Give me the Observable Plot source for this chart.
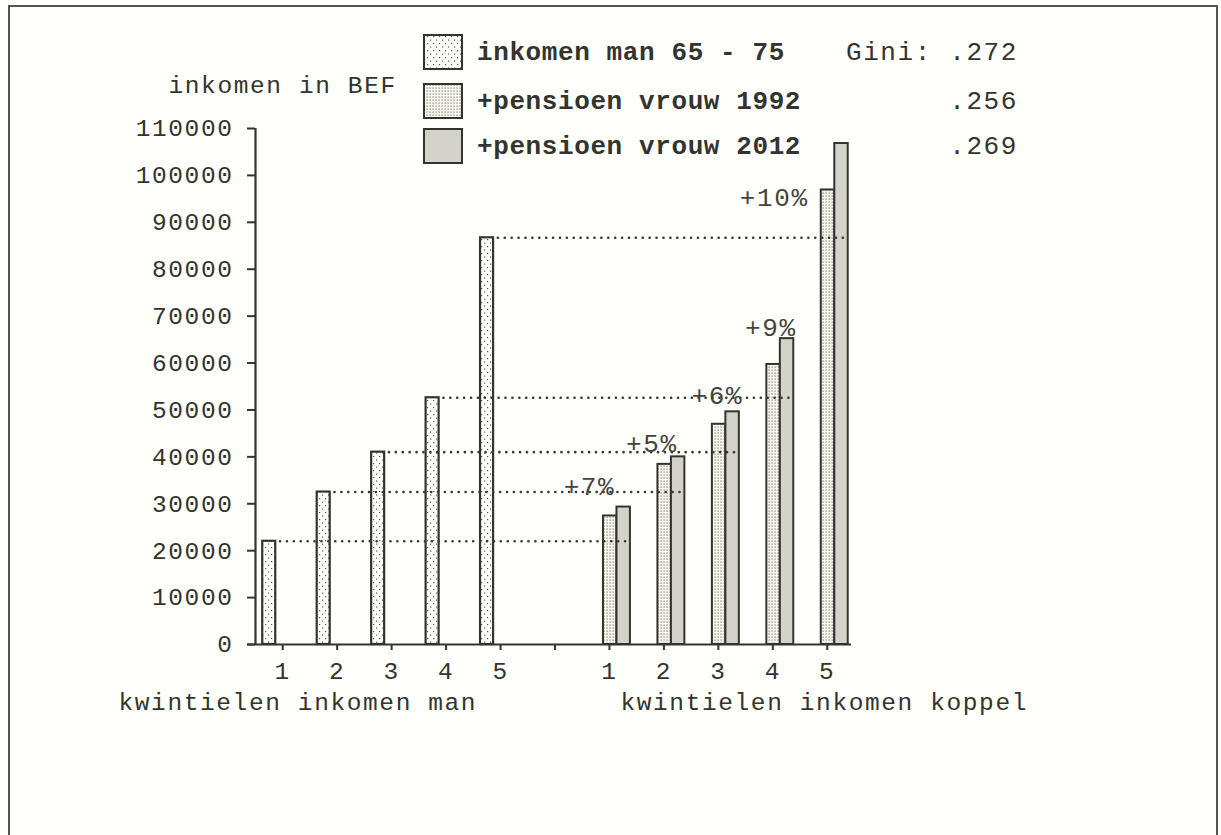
<!DOCTYPE html>
<html><head><meta charset="utf-8">
<script src="https://cdn.jsdelivr.net/npm/d3@7"></script>
<script src="https://cdn.jsdelivr.net/npm/@observablehq/plot@0.6"></script>
<style>
html,body{margin:0;padding:0;background:#fffffb;}
#wrap{position:relative;width:1221px;height:835px;overflow:hidden;background:#fffffb;}
#frame{position:absolute;left:8px;top:5px;width:1210px;height:900px;border:2px solid #55554a;box-sizing:border-box;}
#wrap svg{position:absolute;left:0;top:0;}
#wrap svg text{letter-spacing:1.6px;}
</style></head><body><div id="wrap"><div id="frame"></div></div>
<script>
// ---- data ----
const quintiles = ["1", "2", "3", "4", "5"];
const manIncome = [22000, 32500, 41000, 52600, 86700];          // inkomen man 65 - 75
const coupleIncome1992 = [27400, 38400, 46950, 59700, 96900];   // +pensioen vrouw 1992
const coupleIncome2012 = [29300, 40000, 49600, 65200, 106800];  // +pensioen vrouw 2012
const increaseLabels = ["+7%", "+5%", "+6%", "+9%", "+10%"];
const seriesNames = ["inkomen man 65 - 75", "+pensioen vrouw 1992", "+pensioen vrouw 2012"];
const giniLabels = ["Gini: .272", ".256", ".269"];
const yTicks = [0, 10000, 20000, 30000, 40000, 50000, 60000, 70000, 80000, 90000, 100000, 110000];
const groupTitles = ["kwintielen inkomen man", "kwintielen inkomen koppel"];
const yTitle = "inkomen in BEF";

// ---- layout helpers (slots on a linear x scale: man 1..5, gap 6, couple 7..11) ----
const manSlot = i => i + 1;
const coupleSlot = i => i + 7;
const xTickSlots = d3.range(1, 12);
const xTickLabel = s => s <= 5 ? quintiles[s - 1] : s >= 7 ? quintiles[s - 7] : "";

const manData = manIncome.map((v, i) => ({slot: manSlot(i), v}));
const c92 = coupleIncome1992.map((v, i) => ({slot: coupleSlot(i), v}));
const c12 = coupleIncome2012.map((v, i) => ({slot: coupleSlot(i), v}));
const dotted = manIncome.map((v, i) => ({a: manSlot(i), b: coupleSlot(i), v}));

const ink = "#34342e";
const font = "'Liberation Mono', 'Courier New', monospace";
const fs = 24.5;
const pctOffsets = [[-20, -20], [-12, -13], [-1, -16], [-2, -11], [-53, 54]];

const marks = [
  Plot.rectY(manData, {x1: d => d.slot - 0.367, x2: d => d.slot - 0.128, y1: 0, y2: "v",
    fill: "url(#pMan)", stroke: ink, strokeWidth: 2.2}),
  Plot.rectY(c92, {x1: d => d.slot - 0.11, x2: d => d.slot + 0.138, y1: 0, y2: "v",
    fill: "url(#p1992)", stroke: ink, strokeWidth: 2}),
  Plot.rectY(c12, {x1: d => d.slot + 0.138, x2: d => d.slot + 0.385, y1: 0, y2: "v",
    fill: "url(#p2012)", stroke: ink, strokeWidth: 2}),
  Plot.link(dotted, {x1: d => d.a - 0.05, x2: d => d.b + 0.385, y1: "v", y2: "v",
    stroke: "#3a3a34", strokeWidth: 2.6, strokeDasharray: "0.1,6.8", strokeLinecap: "round"}),
  Plot.ruleX([0.5], {stroke: ink, strokeWidth: 2.2}),
  Plot.ruleY([0], {stroke: ink, strokeWidth: 2.2, insetLeft: -8, insetRight: 3}),
  Plot.axisY({ticks: yTicks, tickSize: 8, tickPadding: 14, tickFormat: d => String(d),
    fontSize: fs, label: null, stroke: ink, strokeWidth: 2, fill: ink}),
  Plot.axisX({ticks: xTickSlots, tickSize: 6, tickPadding: 11, tickFormat: xTickLabel,
    fontSize: fs, label: null, stroke: ink, strokeWidth: 2, fill: ink}),
  ...increaseLabels.map((t, i) => Plot.text([{slot: coupleSlot(i), v: coupleIncome2012[i], t}],
    {x: "slot", y: "v", text: "t", dx: pctOffsets[i][0], dy: pctOffsets[i][1],
     fontSize: 26, fill: "#44443e", lineAnchor: "middle"})),
  Plot.text([groupTitles[0]], {frameAnchor: "bottom-left", text: d => d, textAnchor: "start",
    dx: -137, dy: 58, fontSize: fs, fill: ink, lineAnchor: "middle"}),
  Plot.text([groupTitles[1]], {x: () => coupleSlot(0), frameAnchor: "bottom", text: d => d,
    textAnchor: "start", dx: 11, dy: 58, fontSize: fs, fill: ink, lineAnchor: "middle"}),
  Plot.text([yTitle], {frameAnchor: "top-left", text: d => d, textAnchor: "start",
    dx: -87, dy: -43, fontSize: fs, fill: ink, lineAnchor: "middle"})
];

const chart = Plot.plot({
  width: 1221, height: 835,
  marginLeft: 255, marginRight: 367, marginTop: 128, marginBottom: 191,
  x: {type: "linear", domain: [0.5, 11.5]},
  y: {type: "linear", domain: [0, 110000]},
  style: {fontFamily: font, fontSize: fs + "px", background: "transparent", color: ink, overflow: "visible"},
  marks
});

// patterns
const svg = d3.select(chart);
const defs = svg.insert("defs", ":first-child");
function pattern(id, size, bg, dots, dotColor, r) {
  const p = defs.append("pattern").attr("id", id).attr("patternUnits", "userSpaceOnUse")
    .attr("width", size[0]).attr("height", size[1]);
  p.append("rect").attr("width", size[0]).attr("height", size[1]).attr("fill", bg);
  dots.forEach(([x, y]) => p.append("rect").attr("x", x).attr("y", y).attr("width", r).attr("height", r).attr("fill", dotColor));
}
pattern("pMan", [6, 7], "#fffffb", [[1, 1], [4, 4.5]], "#5a5a50", 1.2);
pattern("p1992", [3, 3], "#f8f8f0", [[0.5, 0.5]], "#7a7a70", 1.2);
pattern("p2012", [2, 2], "#eeeee4", [[0.5, 0.5]], "#84847a", 1);

// legend
const fills = ["url(#pMan)", "url(#p1992)", "url(#p2012)"];
const rowY = [52, 101, 146];
const lg = svg.append("g").attr("font-family", font).attr("font-size", 26).attr("fill", ink)
  .attr("text-anchor", "start");
seriesNames.forEach((name, i) => {
  lg.append("rect").attr("x", 424).attr("y", rowY[i] - 17).attr("width", 38).attr("height", 34)
    .attr("fill", fills[i]).attr("stroke", ink).attr("stroke-width", 2);
  lg.append("text").attr("x", 477).attr("y", rowY[i]).attr("dy", "0.32em")
    .attr("text-anchor", "start").attr("font-weight", "bold").style("letter-spacing", "0.6px").text(name);
  lg.append("text").attr("x", 1018).attr("y", rowY[i]).attr("dy", "0.32em")
    .attr("text-anchor", "end").text(giniLabels[i]);
});

document.getElementById("wrap").appendChild(chart);
</script>
</body></html>
